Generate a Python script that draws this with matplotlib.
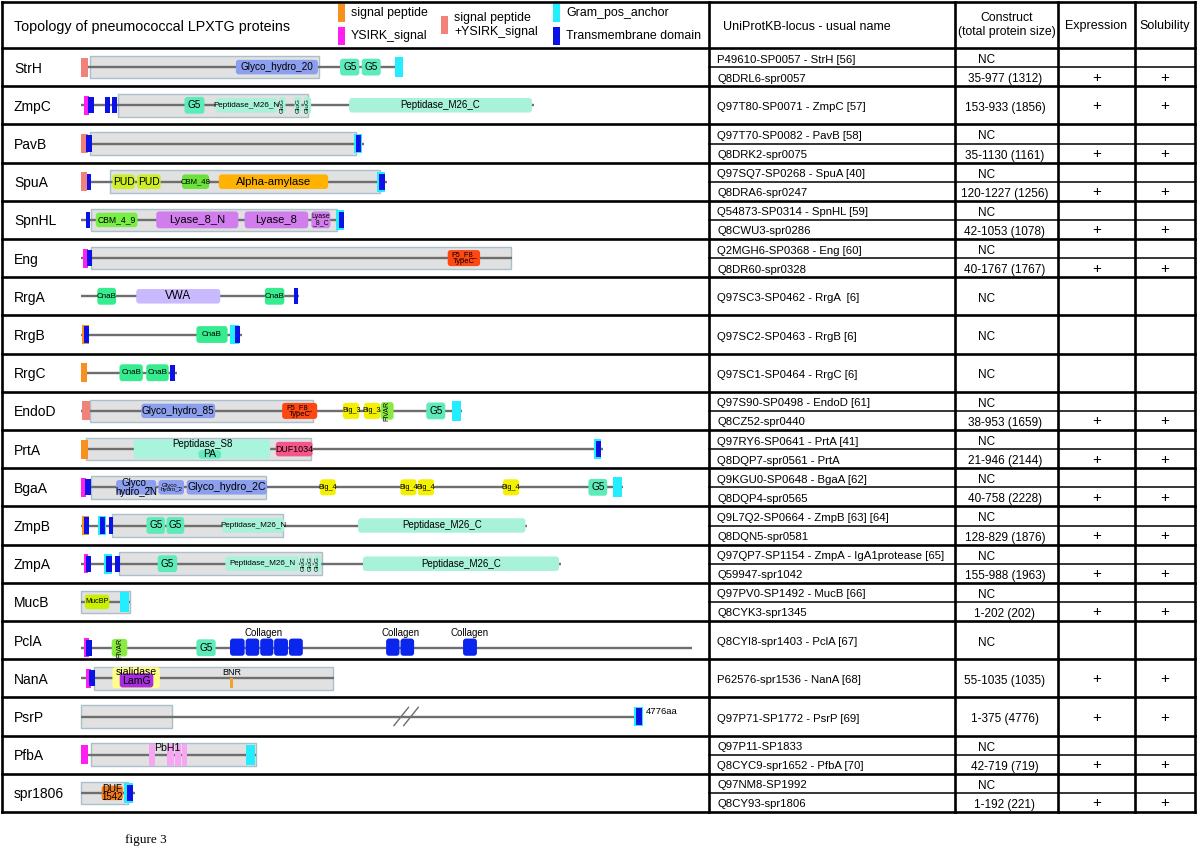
import matplotlib
matplotlib.use("Agg")
import matplotlib.pyplot as plt
from matplotlib.patches import Rectangle, FancyBboxPatch

plt.rcParams['font.family'] = ['Liberation Sans', 'DejaVu Sans']

# ---------------- data ----------------
proteins = ["StrH", "ZmpC", "PavB", "SpuA", "SpnHL", "Eng", "RrgA", "RrgB", "RrgC",
            "EndoD", "PrtA", "BgaA", "ZmpB", "ZmpA", "MucB", "PclA", "NanA", "PsrP",
            "PfbA", "spr1806"]
# drawn length (aa) of each protein line
lengths = [1318, 1862, 1161, 1256, 1080, 1772, 897, 660, 393, 1565, 2144, 2225,
           1831, 1970, 202, 2509, 1039, 2308, 719, 221]

# features: (kind, start aa, end aa, label)
strh = [("spy", 0, 28, ""), ("gh", 636, 973, "Glyco_hydro_20"), ("g5", 1064, 1143, "G5"),
        ("g5", 1153, 1231, "G5"), ("anchor", 1290, 1321, "")]
zmpc = [("ysirk", 12, 33, ""), ("tm", 30, 53, ""), ("tm", 98, 119, ""), ("tm", 126, 147, ""),
        ("g5", 425, 507, "G5"), ("m26", 553, 806, "Peptidase_M26_N"),
        ("glug", 813, 840, "GluG"), ("glug", 877, 905, "GluG"), ("glug", 915, 945, "GluG"),
        ("m26", 1101, 1852, "Peptidase_M26_C")]
pavb = [("spy", 0, 28, ""), ("tm", 20, 44, ""), ("anchor", 1121, 1154, ""), ("tm", 1129, 1150, "")]
spua = [("spy", 0, 25, ""), ("tm", 25, 43, ""), ("pud", 129, 221, "PUD"), ("pud", 230, 327, "PUD"),
        ("cbm48", 415, 526, "CBM_48"), ("amy", 566, 1015, "Alpha-amylase"),
        ("anchor", 1217, 1249, ""), ("tm", 1224, 1247, "")]
spnhl = [("tm", 21, 39, ""), ("cbm", 61, 232, "CBM_4_9"), ("lyase", 309, 646, "Lyase_8_N"),
         ("lyase", 672, 933, "Lyase_8"), ("lyase", 946, 1024, "Lyase\n_8_C"),
         ("anchor", 1046, 1079, ""), ("tm", 1058, 1079, "")]
eng = [("ysirk", 10, 28, ""), ("tm", 25, 47, ""), ("f5f8", 1506, 1639, "F5_F8_\nTypeC")]
rrga = [("cnab", 67, 144, "CnaB"), ("vwa", 227, 572, "VWA"), ("cnab", 755, 835, "CnaB"),
        ("tm", 874, 892, "")]
rrgb = [("sp", 3, 34, ""), ("tm", 12, 34, ""), ("cnab", 474, 602, "CnaB"),
        ("anchor", 611, 648, ""), ("tm", 634, 655, "")]
rrgc = [("sp", 0, 25, ""), ("cnab", 158, 254, "CnaB"), ("cnab", 268, 360, "CnaB"),
        ("tm", 364, 386, "")]
endod = [("spy", 3, 38, ""), ("gh", 248, 551, "Glyco_hydro_85"), ("f5f8", 826, 970, "F5_F8_\nTypeC"),
         ("big", 1076, 1143, "Big_3"), ("big", 1162, 1229, "Big_3"), ("fivar", 1231, 1284, "FIVAR"),
         ("g5", 1418, 1496, "G5"), ("anchor", 1523, 1560, "")]
prta = [("sp", 0, 28, ""), ("s8", 217, 777, "Peptidase_S8"), ("pa", 483, 575, "PA"),
        ("duf1034", 800, 951, "DUF1034"), ("anchor", 2106, 2134, ""), ("tm", 2115, 2134, "")]
bgaa = [("ysirk", 0, 22, ""), ("tm", 16, 42, ""), ("gh", 144, 309, "Glyco_\nhydro_2N"),
        ("gh", 318, 423, "Glyco_\nhydro_2"), ("gh", 434, 763, "Glyco_hydro_2C"),
        ("big", 982, 1046, "Big_4"), ("big", 1312, 1378, "Big_4"), ("big", 1384, 1450, "Big_4"),
        ("big", 1733, 1799, "Big_4"), ("g5", 2084, 2161, "G5"), ("anchor", 2185, 2222, "")]
zmpb = [("sp", 3, 34, ""), ("tm", 12, 34, ""), ("anchor", 70, 102, ""), ("tm", 80, 100, ""),
        ("tm", 113, 131, ""), ("g5", 269, 345, "G5"), ("g5", 351, 424, "G5"),
        ("m26", 580, 834, "Peptidase_M26_N"), ("m26", 1138, 1825, "Peptidase_M26_C")]
zmpa = [("ysirk", 12, 30, ""), ("tm", 22, 43, ""), ("anchor", 95, 129, ""), ("tm", 104, 126, ""),
        ("tm", 141, 162, ""), ("g5", 315, 395, "G5"), ("m26", 593, 895, "Peptidase_M26_N"),
        ("glug", 900, 923, "GluG"), ("glug", 927, 951, "GluG"), ("glug", 956, 987, "GluG"),
        ("m26", 1158, 1963, "Peptidase_M26_C")]
mucb = [("mucbp", 16, 116, "MucBP"), ("anchor", 162, 199, "")]
pcla = [("ysirk", 12, 33, ""), ("tm", 19, 44, ""), ("fivar", 126, 190, "FIVAR"), ("g5", 474, 553, "G5"),
        ("collagen", 612, 672, ""), ("collagen", 676, 732, ""), ("collagen", 736, 790, ""),
        ("collagen", 793, 850, ""), ("collagen", 854, 911, ""), ("collagen", 1253, 1308, ""),
        ("collagen", 1312, 1368, ""), ("collagen", 1569, 1626, ""),
        ("note", 748, 748, "Collagen"), ("note", 1311, 1311, "Collagen"), ("note", 1597, 1597, "Collagen")]
nana = [("ysirk", 21, 43, ""), ("tm", 32, 56, ""), ("sial", 129, 324, "sialidase"),
        ("lamg", 159, 297, "LamG"), ("bnr", 612, 625, "BNR")]
psrp = [("anchor", 2271, 2308, ""), ("tm", 2280, 2305, ""), ("tail", 2318, 2318, "4776aa")]
pfba = [("ysirk", 0, 28, ""), ("pbh1", 278, 304, ""), ("pbh1", 355, 382, ""), ("pbh1", 386, 410, ""),
        ("pbh1", 415, 437, ""), ("pbnote", 356, 356, "PbH1"), ("anchor", 676, 716, "")]
spr1806 = [("duf1542", 85, 172, "DUF\n1542"), ("anchor", 178, 214, ""), ("tm", 190, 214, "")]

features = [strh, zmpc, pavb, spua, spnhl, eng, rrga, rrgb, rrgc, endod, prta, bgaa,
            zmpb, zmpa, mucb, pcla, nana, psrp, pfba, spr1806]
psrp_break = 1340  # aa position of the "//" break on PsrP

table_row = [0, 0, 1, 2, 2, 3, 3, 4, 4, 5, 5, 6, 7, 8, 9, 9, 10, 10, 11, 11,
             12, 12, 13, 13, 14, 14, 15, 16, 17, 18, 18, 19, 19]
table_id = ["P49610-SP0057 - StrH [56]", "Q8DRL6-spr0057", "Q97T80-SP0071 - ZmpC [57]",
            "Q97T70-SP0082 - PavB [58]", "Q8DRK2-spr0075", "Q97SQ7-SP0268 - SpuA [40]",
            "Q8DRA6-spr0247", "Q54873-SP0314 - SpnHL [59]", "Q8CWU3-spr0286",
            "Q2MGH6-SP0368 - Eng [60]", "Q8DR60-spr0328", "Q97SC3-SP0462 - RrgA  [6]",
            "Q97SC2-SP0463 - RrgB [6]", "Q97SC1-SP0464 - RrgC [6]", "Q97S90-SP0498 - EndoD [61]",
            "Q8CZ52-spr0440", "Q97RY6-SP0641 - PrtA [41]", "Q8DQP7-spr0561 - PrtA",
            "Q9KGU0-SP0648 - BgaA [62]", "Q8DQP4-spr0565", "Q9L7Q2-SP0664 - ZmpB [63] [64]",
            "Q8DQN5-spr0581", "Q97QP7-SP1154 - ZmpA - IgA1protease [65]", "Q59947-spr1042",
            "Q97PV0-SP1492 - MucB [66]", "Q8CYK3-spr1345", "Q8CYI8-spr1403 - PclA [67]",
            "P62576-spr1536 - NanA [68]", "Q97P71-SP1772 - PsrP [69]", "Q97P11-SP1833",
            "Q8CYC9-spr1652 - PfbA [70]", "Q97NM8-SP1992", "Q8CY93-spr1806"]
table_construct = ["NC", "35-977 (1312)", "153-933 (1856)", "NC", "35-1130 (1161)", "NC",
                   "120-1227 (1256)", "NC", "42-1053 (1078)", "NC", "40-1767 (1767)", "NC",
                   "NC", "NC", "NC", "38-953 (1659)", "NC", "21-946 (2144)", "NC",
                   "40-758 (2228)", "NC", "128-829 (1876)", "NC", "155-988 (1963)", "NC",
                   "1-202 (202)", "NC", "55-1035 (1035)", "1-375 (4776)", "NC", "42-719 (719)",
                   "NC", "1-192 (221)"]
table_expression = ["" if c == "NC" else "+" for c in table_construct]
table_solubility = ["" if c == "NC" else "+" for c in table_construct]

legend_kinds = ["sp", "ysirk", "spy", "anchor", "tm"]
legend_labels = ["signal peptide", "YSIRK_signal", "signal peptide\n+YSIRK_signal",
                 "Gram_pos_anchor", "Transmembrane domain"]

# ---------------- style / layout ----------------
W, H = 1200, 852
TOP, HEAD_BOT, ROW_H = 2, 48, 38.2
NROW = len(proteins)
BOT = HEAD_BOT + NROW * ROW_H
COLS = [2, 709, 955, 1058, 1135, 1195]
X0_PX, PX_PER_AA = 81, 0.2435
LINE_C = "#6E6E6E"

colors = {"sp": "#F7901E", "ysirk": "#FF1FF0", "spy": "#F0827A", "anchor": "#22EEFF",
          "tm": "#0A12E8", "gh": "#8C9EEE", "g5": "#5EEBBA", "m26": "#A8F2DA", "glug": "#A8F2DA",
          "pud": "#CDEE22", "cbm48": "#6BE23A", "amy": "#FFB300", "cbm": "#78EE46",
          "lyase": "#D17DEE", "f5f8": "#FF4712", "cnab": "#35EC8E", "vwa": "#C9B9FF",
          "big": "#F3F000", "fivar": "#8AEA42", "s8": "#A8F4DC", "pa": "#62ECBE",
          "duf1034": "#F4568A", "mucbp": "#CBEF00", "collagen": "#0A26EE", "sial": "#FFFF8A",
          "lamg": "#A82CE0", "bnr": "#F2A12A", "pbh1": "#F6A6F2", "duf1542": "#F27C1C"}
rect_kinds = {"sp", "ysirk", "spy", "anchor", "tm", "pbh1", "bnr"}
extent = {"sp": (-0.25, 0.25), "ysirk": (-0.25, 0.25), "spy": (-0.25, 0.25),
          "anchor": (-0.26, 0.26), "tm": (-0.21, 0.21), "pbh1": (-0.27, 0.29),
          "bnr": (0.0, 0.26), "s8": (-0.25, 0.25), "pa": (0.03, 0.25), "sial": (-0.29, 0.26),
          "lamg": (-0.13, 0.24), "collagen": (-0.24, 0.21), "g5": (-0.22, 0.22),
          "cnab": (-0.22, 0.22), "lyase": (-0.22, 0.22), "glug": (-0.22, 0.22),
          "f5f8": (-0.21, 0.21), "big": (-0.21, 0.21), "fivar": (-0.23, 0.23)}
label_dy = {"s8": -0.13, "pa": 0.14, "sial": -0.17, "lamg": 0.07, "bnr": -0.14,
            "note": -0.38, "pbnote": -0.17, "tail": -0.13}
label_size = {"Glyco_hydro_20": 7.2, "G5": 7.2, "Peptidase_M26_N": 5.8, "GluG": 4.6,
              "Peptidase_M26_C": 7, "PUD": 7.4, "CBM_48": 5.6, "Alpha-amylase": 8.2,
              "CBM_4_9": 6.2, "Lyase_8_N": 8, "Lyase_8": 8, "Lyase\n_8_C": 5,
              "F5_F8_\nTypeC": 5.4, "CnaB": 5.8, "VWA": 8.4, "Glyco_hydro_85": 7.2,
              "Big_3": 5.2, "FIVAR": 5.0, "Peptidase_S8": 7, "PA": 7.5, "DUF1034": 6.4,
              "Glyco_\nhydro_2N": 7, "Glyco_\nhydro_2": 4.4, "Glyco_hydro_2C": 7.6,
              "Big_4": 5.2, "MucBP": 5.2, "Collagen": 7, "sialidase": 7.6, "LamG": 7.6,
              "BNR": 6.5, "PbH1": 7.6, "DUF\n1542": 7, "4776aa": 6.8}
line_offset = {"PclA": 0.2}

fig = plt.figure(figsize=(W / 100, H / 100), dpi=100)
ax = fig.add_axes([0, 0, 1, 1])
ax.set_xlim(0, W)
ax.set_ylim(H, 0)
ax.axis("off")

# ---- table grid ----
LW_MAIN, LW_SUB = 1.9, 1.1
for i in range(NROW + 1):
    ax.plot([COLS[0], COLS[-1]], [HEAD_BOT + i * ROW_H] * 2, color="black", lw=LW_MAIN)
ax.plot([COLS[0], COLS[-1]], [TOP, TOP], color="black", lw=LW_MAIN)
for x in COLS:
    ax.plot([x, x], [TOP, BOT], color="black", lw=LW_MAIN)

# ---- header ----
ax.text(14, 25, "Topology of pneumococcal LPXTG proteins", fontsize=10.3, va="center_baseline")
leg_pos = [(338, 13), (338, 36), (441, 25), (553, 13), (553, 36)]
for kind, lab, (lx, ly) in zip(legend_kinds, legend_labels, leg_pos):
    ax.add_patch(Rectangle((lx, ly - 9), 6.5, 18, color=colors[kind], lw=0))
    ax.text(lx + 13, ly, lab, fontsize=8.9, va="center", linespacing=1.25)
ax.text(723, 25, "UniProtKB-locus - usual name", fontsize=9, va="center_baseline")
ax.text((COLS[2] + COLS[3]) / 2, 25, "Construct\n(total protein size)", fontsize=8.8,
        va="center", ha="center", linespacing=1.3)
ax.text((COLS[3] + COLS[4]) / 2, 25, "Expression", fontsize=9, va="center_baseline", ha="center")
ax.text((COLS[4] + COLS[5]) / 2, 25, "Solubility", fontsize=9, va="center_baseline", ha="center")

# ---- right table body ----
counts = [table_row.count(i) for i in range(NROW)]
seen = [0] * NROW
for r, tid, con, ex, so in zip(table_row, table_id, table_construct, table_expression,
                               table_solubility):
    n = counts[r]
    sub_h = ROW_H / n
    top = HEAD_BOT + r * ROW_H + seen[r] * sub_h
    yc = top + sub_h / 2 + 1
    if seen[r] > 0:
        ax.plot([COLS[1], COLS[-1]], [top, top], color="black", lw=LW_SUB)
    seen[r] += 1
    ax.text(717, yc, tid, fontsize=8.2, va="center_baseline")
    cx = 987 if con == "NC" else 1005
    ax.text(cx, yc, con, fontsize=8.5, va="center_baseline", ha="center")
    ax.text((COLS[3] + COLS[4]) / 2, yc, ex, fontsize=11, va="center", ha="center")
    ax.text((COLS[4] + COLS[5]) / 2, yc, so, fontsize=11, va="center", ha="center")

# construct ranges -> grey boxes
boxes = [None] * NROW
for r, con in zip(table_row, table_construct):
    if con != "NC":
        a, b = con.split(" ")[0].split("-")
        boxes[r] = (int(a), int(b))

for i, name in enumerate(proteins):
    ax.text(14, HEAD_BOT + (i + 0.5) * ROW_H, name, fontsize=10, va="center_baseline")

ax.text(125, 840, "figure 3", fontsize=9.5, va="center", family=["Liberation Serif", "DejaVu Serif"])

# ---- domain diagrams ----
aa_left = -X0_PX / PX_PER_AA
aa_right = (COLS[1] - X0_PX) / PX_PER_AA
dax = fig.add_axes([0, 1 - BOT / H, COLS[1] / W, (BOT - HEAD_BOT) / H])
dax.set_xlim(aa_left, aa_right)
dax.set_ylim(NROW, 0)
dax.axis("off")
dax.patch.set_alpha(0)
aspect = (NROW / (BOT - HEAD_BOT)) / (1 / PX_PER_AA)
RND = 12

for i, (name, length, feats) in enumerate(zip(proteins, lengths, features)):
    yc = i + 0.5 + line_offset.get(name, 0)
    dax.plot([0, length], [yc, yc], color=LINE_C, lw=1.7, solid_capstyle="butt", zorder=2)
    if boxes[i] is not None:
        s, e = boxes[i]
        dax.add_patch(Rectangle((s, yc - 0.295), e - s, 0.59, facecolor="#E1E1E1",
                                edgecolor="#A9C0C8", lw=1.0, zorder=1))
    if name == "PsrP":
        for dx in (-25, 15):
            dax.plot([psrp_break + dx - 30, psrp_break + dx + 30], [yc + 0.24, yc - 0.24],
                     color=LINE_C, lw=1.0, zorder=3)
    for z, (kind, s, e, lab) in enumerate(feats):
        zo = 3 + z * 0.01
        if kind in ("note", "pbnote", "tail"):
            dax.text(s, yc + label_dy[kind], lab, fontsize=label_size.get(lab, 7),
                     ha="left" if kind == "tail" else "center", va="center", zorder=6)
            continue
        y0, y1 = extent.get(kind, (-0.19, 0.19))
        if kind in rect_kinds:
            dax.add_patch(Rectangle((s, yc + y0), e - s, y1 - y0, color=colors[kind],
                                    lw=0, zorder=zo))
        else:
            dax.add_patch(FancyBboxPatch((s, yc + y0), e - s, y1 - y0,
                                         boxstyle=f"round,pad=0,rounding_size={min(RND, (e - s) / 2.2)}",
                                         mutation_aspect=aspect, facecolor=colors[kind],
                                         edgecolor="none", zorder=zo))
        if lab:
            rot = 90 if kind in ("glug", "fivar") else 0
            dax.text((s + e) / 2, yc + label_dy.get(kind, 0), lab,
                     fontsize=label_size.get(lab, 7), ha="center", va="center",
                     rotation=rot, linespacing=0.85, zorder=6)

fig.savefig("out.png", dpi=100)
